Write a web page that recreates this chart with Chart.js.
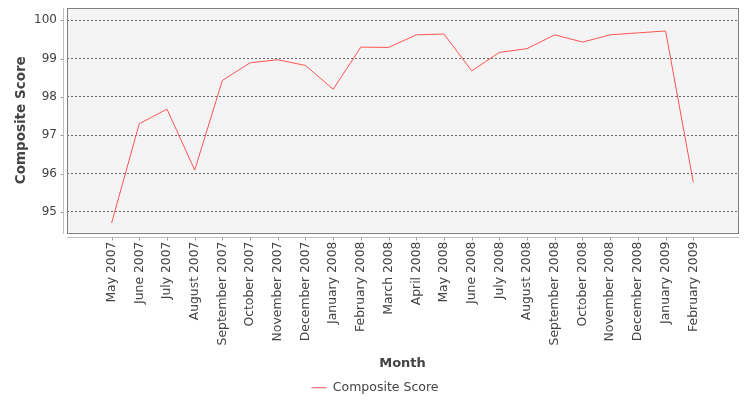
<!DOCTYPE html>
<html>
<head>
<meta charset="utf-8">
<script src="https://cdn.jsdelivr.net/npm/chart.js@4/dist/chart.umd.min.js"></script>
<style>
html,body{margin:0;padding:0;background:#ffffff;}
#wrap{width:750px;height:400px;}
</style>
</head>
<body>
<div id="wrap"><canvas id="c" width="750" height="400"></canvas></div>
<script>
const months = ["May 2007","June 2007","July 2007","August 2007","September 2007","October 2007","November 2007","December 2007","January 2008","February 2008","March 2008","April 2008","May 2008","June 2008","July 2008","August 2008","September 2008","October 2008","November 2008","December 2008","January 2009","February 2009"];
const compositeScore = [94.71,97.30,97.68,96.09,98.43,98.89,98.97,98.82,98.20,99.30,99.29,99.62,99.64,98.68,99.16,99.26,99.62,99.43,99.62,99.67,99.72,95.77];
const yTicks = [95,96,97,98,99,100];
const seriesName = "Composite Score";
const xTitle = "Month";
const yTitle = "Composite Score";

const textColor = "#444444";
const fontFamily = "'DejaVu Sans', sans-serif";

const plotDecor = {
  id: 'plotDecor',
  beforeDraw(chart) {
    const a = chart.chartArea, ctx = chart.ctx;
    ctx.save();
    ctx.fillStyle = '#f4f4f4';
    ctx.fillRect(a.left, a.top, a.right - a.left, a.bottom - a.top);
    ctx.restore();
  },
  afterDraw(chart) {
    const a = chart.chartArea, ctx = chart.ctx;
    const xs = chart.scales.x, ys = chart.scales.y;
    ctx.save();
    ctx.strokeStyle = '#808080';
    ctx.lineWidth = 1;
    ctx.strokeRect(Math.round(a.left) + 0.5, Math.round(a.top) + 0.5, Math.round(a.right - a.left), Math.round(a.bottom - a.top));
    ctx.strokeStyle = '#c0c0c0';
    const axX = Math.round(a.left) - 4 + 0.5;
    const axY = Math.round(a.bottom) + 4 + 0.5;
    ctx.beginPath();
    ctx.moveTo(axX, Math.round(a.top)); ctx.lineTo(axX, Math.round(a.bottom) + 1);
    ctx.moveTo(Math.round(a.left), axY); ctx.lineTo(Math.round(a.right) + 1, axY);
    ctx.stroke();
    ctx.strokeStyle = '#a0a0a0';
    ctx.beginPath();
    ys.ticks.forEach(t => {
      const py = Math.round(ys.getPixelForValue(t.value)) + 0.5;
      ctx.moveTo(axX - 3, py); ctx.lineTo(axX, py);
    });
    xs.ticks.forEach(t => {
      const px = Math.round(xs.getPixelForValue(t.value)) + 0.5;
      ctx.moveTo(px, axY); ctx.lineTo(px, axY + 3);
    });
    ctx.stroke();
    ctx.restore();
  }
};

new Chart(document.getElementById('c'), {
  type: 'line',
  data: {
    datasets: [{
      label: seriesName,
      data: compositeScore.map((v, i) => ({x: i, y: v})),
      borderColor: '#ff5555',
      backgroundColor: '#ff5555',
      borderWidth: 1,
      pointRadius: 0,
      pointHoverRadius: 0,
      tension: 0,
      fill: false
    }]
  },
  options: {
    responsive: false,
    animation: false,
    events: [],
    layout: { padding: { left: 0, right: 0, top: 8, bottom: -4 } },
    plugins: {
      legend: {
        position: 'bottom',
        labels: {
          color: textColor,
          font: { family: fontFamily, size: 12.5 },
          usePointStyle: true,
          pointStyle: 'line',
          pointStyleWidth: 15,
          boxHeight: 12,
          padding: 10
        }
      },
      tooltip: { enabled: false }
    },
    scales: {
      x: {
        type: 'linear',
        min: -1.61,
        max: 22.614,
        afterBuildTicks(scale) { scale.ticks = months.map((m, i) => ({ value: i })); },
        afterFit(scale) {
          scale.height = 400 + 4 - 32 - 233;
          scale.paddingLeft = 0; scale.paddingRight = 12; scale.paddingTop = 0; scale.paddingBottom = 0;
        },
        ticks: {
          autoSkip: false,
          maxRotation: 90,
          minRotation: 90,
          padding: 9,
          color: textColor,
          font: { family: fontFamily, size: 12.4 },
          callback: (v) => months[v] !== undefined ? months[v] : ''
        },
        grid: { display: false, drawTicks: false },
        border: { display: false },
        title: {
          display: true,
          text: xTitle,
          color: textColor,
          font: { family: fontFamily, size: 13, weight: 'bold' },
          padding: { top: 0, bottom: 0 }
        }
      },
      y: {
        type: 'linear',
        min: 94.461,
        max: 100.32,
        afterBuildTicks(scale) { scale.ticks = yTicks.map(v => ({ value: v })); },
        afterFit(scale) {
          scale.width = 67;
          scale.paddingLeft = 0; scale.paddingRight = 0; scale.paddingTop = 0; scale.paddingBottom = 0;
        },
        ticks: {
          padding: 10,
          color: textColor,
          font: { family: fontFamily, size: 12 }
        },
        grid: {
          drawTicks: false,
          color: '#666666',
          lineWidth: 1
        },
        border: { display: false, dash: [2, 2] },
        title: {
          display: true,
          text: yTitle,
          color: textColor,
          font: { family: fontFamily, size: 13.5, weight: 'bold' },
          padding: { top: 13, bottom: 0 }
        }
      }
    }
  },
  plugins: [plotDecor]
});
</script>
</body>
</html>
